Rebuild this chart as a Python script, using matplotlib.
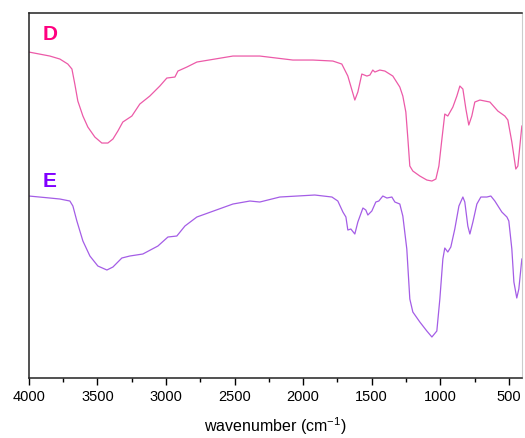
import numpy as np
import matplotlib.pyplot as plt

plt.rcParams['font.family'] = ['Liberation Sans', 'DejaVu Sans']

# spectrum D (wavenumber, transmittance a.u.)
wn_D = [4000, 3847, 3774, 3716, 3686, 3665, 3643, 3606, 3570, 3519, 3468, 3424,
        3387, 3351, 3315, 3249, 3191, 3118, 3045, 2994, 2935, 2913, 2848, 2775,
        2512, 2316, 2075, 1929, 1783, 1718, 1674, 1623, 1601, 1572, 1535, 1513,
        1492, 1477, 1441, 1404, 1346, 1295, 1273, 1251, 1236, 1222, 1200, 1149,
        1098, 1061, 1032, 1010, 988, 967, 945, 908, 879, 857, 835, 813, 792,
        770, 748, 711, 638, 580, 529, 507, 478, 449, 434, 405]
T_D = [326, 322, 319, 314, 309, 294, 277, 262, 251, 241, 235, 235,
       239, 247, 256, 262, 274, 282, 292, 300, 301, 307, 311, 316,
       322, 322, 318, 318, 317, 314, 302, 278, 286, 304, 302, 303,
       308, 306, 308, 307, 302, 291, 282, 266, 239, 212, 207, 202,
       198, 197, 199, 212, 239, 264, 262, 271, 282, 292, 289, 269, 253,
       262, 276, 278, 276, 267, 262, 258, 236, 209, 212, 252]

# spectrum E
wn_E = [4000, 3847, 3774, 3701, 3679, 3650, 3606, 3555, 3497, 3431, 3387, 3322,
        3264, 3169, 3059, 2986, 2921, 2862, 2775, 2512, 2388, 2316, 2170, 1915,
        1790, 1747, 1710, 1688, 1674, 1652, 1623, 1601, 1564, 1543, 1528, 1499,
        1470, 1448, 1419, 1389, 1353, 1331, 1295, 1273, 1244, 1222, 1200, 1149,
        1098, 1061, 1025, 1003, 981, 967, 945, 923, 894, 864, 835, 821, 799,
        784, 762, 733, 704, 660, 631, 602, 551, 514, 500, 478, 463, 442, 427,
        405]
T_E = [182, 180, 179, 177, 172, 157, 137, 122, 112, 108, 111, 120,
       122, 124, 132, 141, 142, 152, 161, 174, 177, 176, 181, 183,
       181, 177, 166, 161, 148, 149, 144, 156, 170, 168, 163, 167,
       176, 177, 182, 180, 181, 176, 174, 162, 129, 79, 66, 56,
       47, 41, 47, 79, 119, 130, 126, 131, 149, 172, 181, 176, 152,
       144, 156, 174, 181, 181, 182, 177, 166, 161, 157, 129, 96, 80, 89,
       119]

fig = plt.figure(figsize=(5.25, 4.39), dpi=100)
ax = fig.add_axes([0.055, 0.1367, 0.939, 0.8313])

ax.plot(wn_D, T_D, color='#ec5aa8', lw=0.9)
ax.plot(wn_E, T_E, color='#a45de6', lw=0.9)

ax.text(0.027, 0.945, 'D', transform=ax.transAxes, color='#ff0080',
        fontsize=15, fontweight='bold', ha='left', va='center')
ax.text(0.027, 0.542, 'E', transform=ax.transAxes, color='#8000ff',
        fontsize=15, fontweight='bold', ha='left', va='center')

ax.set_xlim(4000, 405)
ax.set_ylim(0, 365)
ax.set_xticks([4000, 3500, 3000, 2500, 2000, 1500, 1000, 500])
ax.set_xticks(np.arange(3750, 400, -500), minor=True)
ax.set_yticks([])
ax.tick_params(axis='x', which='major', direction='out', length=5, width=1,
               labelsize=10.5, pad=3)
ax.tick_params(axis='x', which='minor', direction='out', length=3, width=1)
ax.set_xlabel('wavenumber (cm$\\mathregular{^{-1}}$)', fontsize=11.5, labelpad=8)

for s in ['left', 'bottom', 'top']:
    ax.spines[s].set_color('#222222')
    ax.spines[s].set_linewidth(1.1)
ax.spines['right'].set_color('#cccccc')

fig.savefig('out.png', dpi=100)
